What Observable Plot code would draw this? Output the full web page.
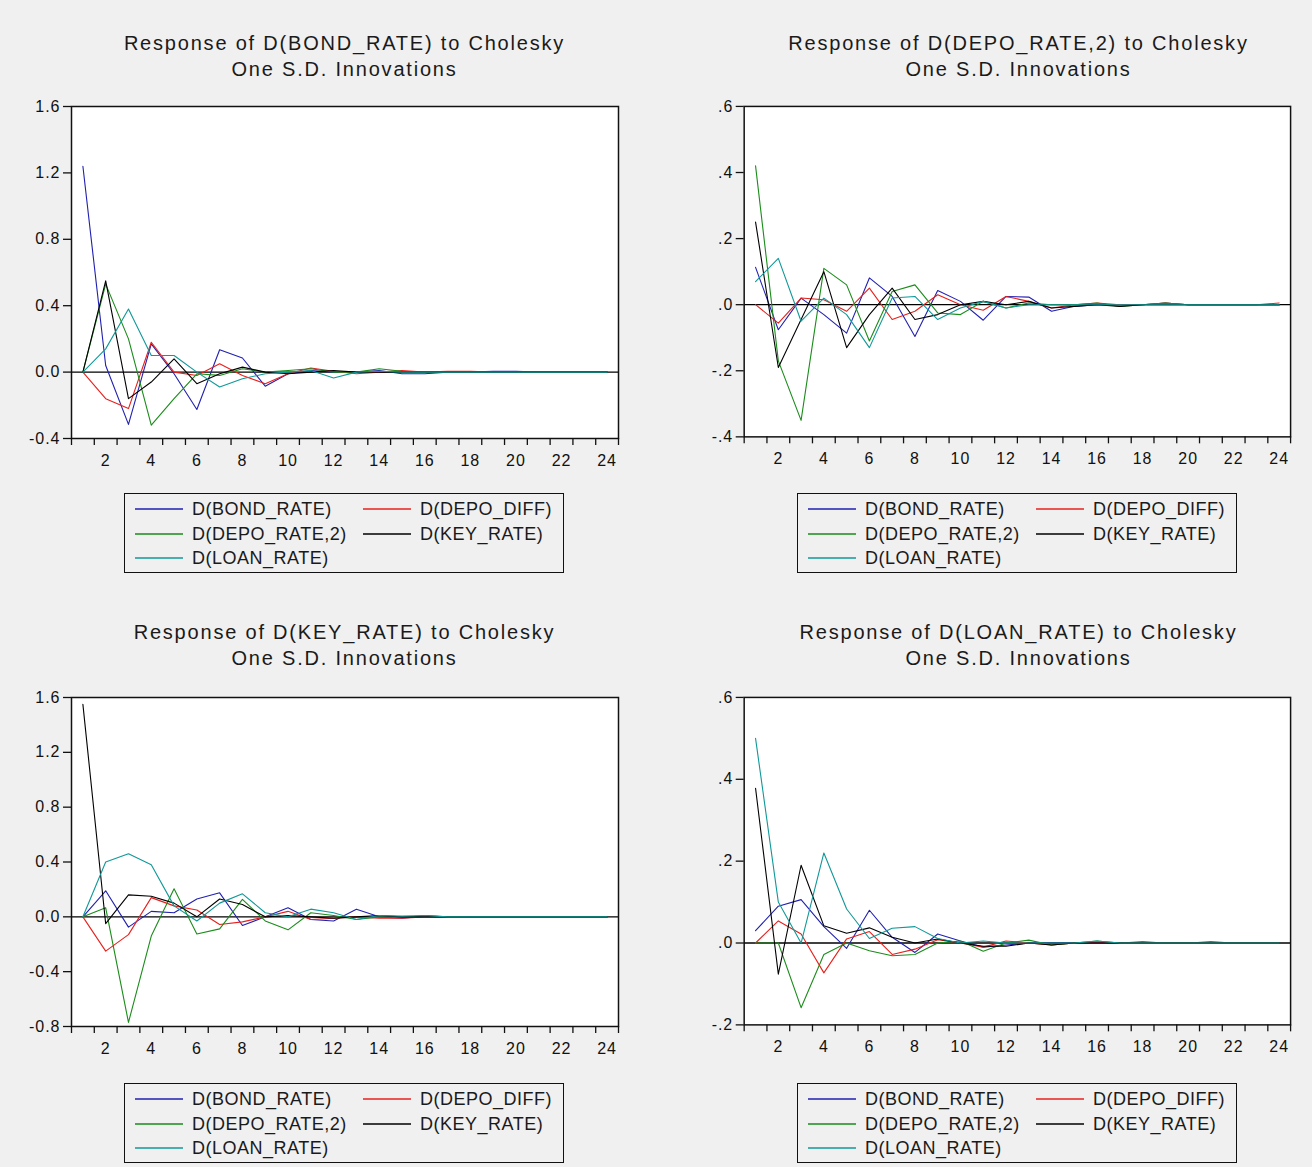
<!DOCTYPE html>
<html><head><meta charset="utf-8">
<script src="https://cdn.jsdelivr.net/npm/d3@7"></script>
<script src="https://cdn.jsdelivr.net/npm/@observablehq/plot@0.6"></script>
<style>
html,body{margin:0;padding:0;background:#f0f0f0;}
#root{position:relative;width:1312px;height:1167px;overflow:hidden;font-family:"Liberation Sans",Arial,sans-serif;color:#1a1a1a;}
.title{position:absolute;text-align:center;font-size:20px;letter-spacing:1.8px;line-height:26px;white-space:nowrap;}
.legend{position:absolute;border:1.5px solid #111;box-sizing:border-box;width:440px;height:80px;}
.item{position:absolute;height:22px;display:flex;align-items:center;font-size:18px;letter-spacing:0.5px;white-space:nowrap;}
.item svg{margin-right:9px;}
.plot{position:absolute;}
</style></head>
<body><div id="root"></div>
<script>
const periods = [1,2,3,4,5,6,7,8,9,10,11,12,13,14,15,16,17,18,19,20,21,22,23,24];
const seriesNames = ["D(BOND_RATE)","D(DEPO_DIFF)","D(DEPO_RATE,2)","D(KEY_RATE)","D(LOAN_RATE)"];
const seriesColors = ["#2020b0","#e8201c","#1a8c1a","#000000","#109898"];
const xLabelTicks = [2,4,6,8,10,12,14,16,18,20,22,24];
const xTickMarks = [0.5,1.5,2.5,3.5,4.5,5.5,6.5,7.5,8.5,9.5,10.5,11.5,12.5,13.5,14.5,15.5,16.5,17.5,18.5,19.5,20.5,21.5,22.5,23.5,24.5];

// Response of D(BOND_RATE)
const bond_BOND     = [1.24, 0.04, -0.315, 0.17, -0.01, -0.225, 0.135, 0.085, -0.085, -0.01, 0.01, 0.0, 0.0, 0.01, -0.01, -0.01, 0.0, 0.0, 0.005, 0.005, 0, 0, 0, 0];
const bond_DEPODIFF = [0, -0.16, -0.22, 0.18, 0.0, -0.02, 0.05, -0.02, -0.07, -0.01, 0.025, 0.005, -0.01, 0.0, 0.01, 0.0, 0.005, 0.005, 0, 0, 0, 0, 0, 0];
const bond_DEPORATE = [0, 0.53, 0.2, -0.32, -0.16, -0.01, -0.02, 0.02, 0.0, 0.01, 0.02, 0.0, 0.0, 0.02, 0.005, 0, 0, 0, 0, 0, 0, 0, 0, 0];
const bond_KEY      = [0, 0.55, -0.16, -0.06, 0.08, -0.07, -0.01, 0.03, 0.0, -0.01, 0.0, 0.01, 0.0, 0.0, 0.0, 0, 0, 0, 0, 0, 0, 0, 0, 0];
const bond_LOAN     = [0, 0.14, 0.38, 0.1, 0.1, 0.0, -0.09, -0.04, -0.01, 0.0, 0.01, -0.035, 0.0, 0.005, 0, 0, 0, 0, 0, 0, 0, 0, 0, 0];

// Response of D(DEPO_RATE,2)
const depo_BOND     = [0.113, -0.076, 0.02, -0.03, -0.086, 0.081, 0.025, -0.096, 0.043, 0.01, -0.047, 0.025, 0.023, -0.02, -0.005, 0.0, 0.0, 0.0, 0.005, 0.0, 0, 0, 0, 0];
const depo_DEPODIFF = [0, -0.056, 0.02, 0.015, -0.02, 0.05, -0.045, -0.02, 0.03, 0.0, -0.017, 0.025, 0.01, -0.01, 0.0, 0.005, 0.0, 0.0, 0.005, 0, 0, 0, 0, 0.005];
const depo_DEPORATE = [0.42, -0.17, -0.35, 0.11, 0.06, -0.11, 0.04, 0.06, -0.025, -0.03, 0.01, -0.01, 0.005, 0.0, 0.0, 0.005, -0.005, 0.0, 0.005, 0, 0, 0, 0, 0];
const depo_KEY      = [0.25, -0.19, -0.045, 0.10, -0.13, -0.03, 0.05, -0.045, -0.03, 0.0, 0.01, 0.0, 0.01, -0.01, -0.005, 0.0, -0.005, 0, 0, 0, 0, 0, 0, 0];
const depo_LOAN     = [0.07, 0.14, -0.05, 0.02, -0.03, -0.13, 0.02, 0.025, -0.045, -0.01, 0.01, -0.01, 0.0, 0.0, 0, 0, 0, 0, 0, 0, 0, 0, 0, 0];

// Response of D(KEY_RATE)
const key_BOND      = [0, 0.19, -0.075, 0.04, 0.03, 0.13, 0.175, -0.063, 0.0, 0.066, -0.02, -0.03, 0.056, 0.0, -0.01, 0.005, 0, 0, 0, 0, 0, 0, 0, 0];
const key_DEPODIFF  = [0, -0.25, -0.13, 0.14, 0.08, 0.05, -0.056, -0.037, 0.0, 0.04, -0.02, -0.01, 0.0, -0.01, -0.01, 0.0, 0, -0.005, 0, 0, 0, 0, 0, 0];
const key_DEPORATE  = [0, 0.066, -0.77, -0.14, 0.205, -0.125, -0.088, 0.127, -0.03, -0.095, 0.03, 0.01, -0.02, 0.0, -0.005, 0.01, 0, 0, 0, 0, 0, 0, 0, 0];
const key_KEY       = [1.55, -0.05, 0.16, 0.15, 0.1, 0.0, 0.13, 0.09, 0.0, 0.01, 0.0, -0.01, 0.0, 0.01, 0.0, 0, 0, 0, 0, 0, 0, 0, 0, 0];
const key_LOAN      = [0, 0.40, 0.46, 0.38, 0.08, -0.03, 0.10, 0.168, 0.03, 0.0, 0.056, 0.03, -0.02, 0.01, 0.005, 0.01, 0, 0, 0, 0, 0, 0, 0, 0];

// Response of D(LOAN_RATE)
const loan_BOND     = [0.03, 0.09, 0.106, 0.04, -0.013, 0.08, 0.014, -0.023, 0.022, 0.005, -0.01, -0.005, 0.0, 0.0, 0.0, 0, 0, 0.003, 0, 0, 0.003, 0, 0, 0];
const loan_DEPODIFF = [0, 0.054, 0.022, -0.073, 0.01, 0.028, -0.028, -0.015, 0.008, 0.0, -0.01, 0.005, 0.0, -0.005, 0, 0, 0, 0, 0, 0, 0, 0, 0, 0];
const loan_DEPORATE = [0, 0.0, -0.158, -0.028, 0.0, -0.019, -0.031, -0.028, 0.0, 0.005, -0.02, 0.0, 0.007, -0.005, 0.0, 0.005, 0, 0, 0, 0, 0, 0, 0, 0];
const loan_KEY      = [0.378, -0.076, 0.19, 0.042, 0.024, 0.037, 0.014, 0.0, 0.01, 0.0, -0.008, -0.008, 0.0, -0.005, 0, 0, 0, 0, 0, 0, 0, 0, 0, 0];
const loan_LOAN     = [0.50, 0.10, 0.0, 0.22, 0.083, 0.011, 0.036, 0.04, 0.011, 0.0, 0.005, 0.0, 0.0, 0.0, 0, 0.005, 0, 0, 0, 0, 0, 0, 0, 0];

const yTicksA = [-0.4, 0, 0.4, 0.8, 1.2, 1.6];
const yLabelsA = ["-0.4", "0.0", "0.4", "0.8", "1.2", "1.6"];
const yTicksB = [-0.4, -0.2, 0, 0.2, 0.4, 0.6];
const yLabelsB = ["-.4", "-.2", ".0", ".2", ".4", ".6"];
const yTicksC = [-0.8, -0.4, 0, 0.4, 0.8, 1.2, 1.6];
const yLabelsC = ["-0.8", "-0.4", "0.0", "0.4", "0.8", "1.2", "1.6"];
const yTicksD = [-0.2, 0, 0.2, 0.4, 0.6];
const yLabelsD = ["-.2", ".0", ".2", ".4", ".6"];

const titles = [
  ["Response of D(BOND_RATE) to Cholesky", "One S.D. Innovations"],
  ["Response of D(DEPO_RATE,2) to Cholesky", "One S.D. Innovations"],
  ["Response of D(KEY_RATE) to Cholesky", "One S.D. Innovations"],
  ["Response of D(LOAN_RATE) to Cholesky", "One S.D. Innovations"]
];

const panels = [
  {title: titles[0], values: [bond_BOND, bond_DEPODIFF, bond_DEPORATE, bond_KEY, bond_LOAN], yTicks: yTicksA, yLabels: yLabelsA,
   frameLeft: 71, frameTop: 106, frameW: 547, frameH: 332, titleTop: 30, legendTop: 493},
  {title: titles[1], values: [depo_BOND, depo_DEPODIFF, depo_DEPORATE, depo_KEY, depo_LOAN], yTicks: yTicksB, yLabels: yLabelsB,
   frameLeft: 744, frameTop: 106, frameW: 549, frameH: 332, titleTop: 30, legendTop: 493},
  {title: titles[2], values: [key_BOND, key_DEPODIFF, key_DEPORATE, key_KEY, key_LOAN], yTicks: yTicksC, yLabels: yLabelsC,
   frameLeft: 71, frameTop: 697, frameW: 547, frameH: 329, titleTop: 619, legendTop: 1083},
  {title: titles[3], values: [loan_BOND, loan_DEPODIFF, loan_DEPORATE, loan_KEY, loan_LOAN], yTicks: yTicksD, yLabels: yLabelsD,
   frameLeft: 744, frameTop: 697, frameW: 549, frameH: 329, titleTop: 619, legendTop: 1083}
];

const root = document.getElementById("root");
const ML = 71, MT = 16, MR = 22, MB = 40;
const font = '"Liberation Sans", Arial, sans-serif';

for (const p of panels) {
  // title
  const t = document.createElement("div");
  t.className = "title";
  t.style.left = p.frameLeft + "px";
  t.style.width = p.frameW + "px";
  t.style.top = p.titleTop + "px";
  t.innerHTML = p.title.map(s => `<div>${s}</div>`).join("");
  root.appendChild(t);

  // plot
  const data = [];
  seriesNames.forEach((name, i) => p.values[i].forEach((v, j) => data.push({period: periods[j], value: v, series: name})));
  const fmt = d => { const k = p.yTicks.indexOf(d); return k >= 0 ? p.yLabels[k] : ""; };
  const chart = Plot.plot({
    width: ML + p.frameW + MR,
    height: MT + p.frameH + MB,
    marginLeft: ML, marginTop: MT, marginRight: MR, marginBottom: MB,
    x: {domain: [0.5, 24.5], label: null},
    y: {domain: [p.yTicks[0], p.yTicks[p.yTicks.length - 1]], label: null},
    color: {domain: seriesNames, range: seriesColors},
    style: {background: "transparent", fontFamily: font, fontSize: "16px", color: "#111", letterSpacing: "1px", overflow: "visible"},
    marks: [
      Plot.frame({fill: "white"}),
      Plot.ruleY([0], {stroke: "#000", strokeWidth: 1.3}),
      Plot.line(data, {x: "period", y: "value", z: "series", stroke: "series", strokeWidth: 1.1}),
      Plot.frame({stroke: "#111", strokeWidth: 1.5}),
      Plot.axisY({ticks: p.yTicks, tickFormat: fmt, tickSize: 8, tickPadding: 3, label: null, fontSize: 16, strokeWidth: 1.3}),
      Plot.axisX({ticks: xTickMarks, tickFormat: () => "", tickSize: 7, label: null, strokeWidth: 1.3}),
      Plot.axisX({ticks: xLabelTicks, tickSize: 0, tickPadding: 16, label: null, fontSize: 16})
    ]
  });
  const wrap = document.createElement("div");
  wrap.className = "plot";
  wrap.style.left = (p.frameLeft - ML) + "px";
  wrap.style.top = (p.frameTop - MT) + "px";
  wrap.appendChild(chart);
  root.appendChild(wrap);

  // legend
  const lg = document.createElement("div");
  lg.className = "legend";
  lg.style.left = (p.frameLeft + 53) + "px";
  lg.style.top = p.legendTop + "px";
  const pos = [[10, 4], [238, 4], [10, 29], [238, 29], [10, 53]];
  seriesNames.forEach((name, i) => {
    const it = document.createElement("div");
    it.className = "item";
    it.style.left = pos[i][0] + "px";
    it.style.top = pos[i][1] + "px";
    it.innerHTML = `<svg width="48" height="4"><line x1="0" x2="48" y1="2" y2="2" stroke="${seriesColors[i]}" stroke-width="1.4"/></svg><span>${name}</span>`;
    lg.appendChild(it);
  });
  root.appendChild(lg);
}
</script></body></html>
